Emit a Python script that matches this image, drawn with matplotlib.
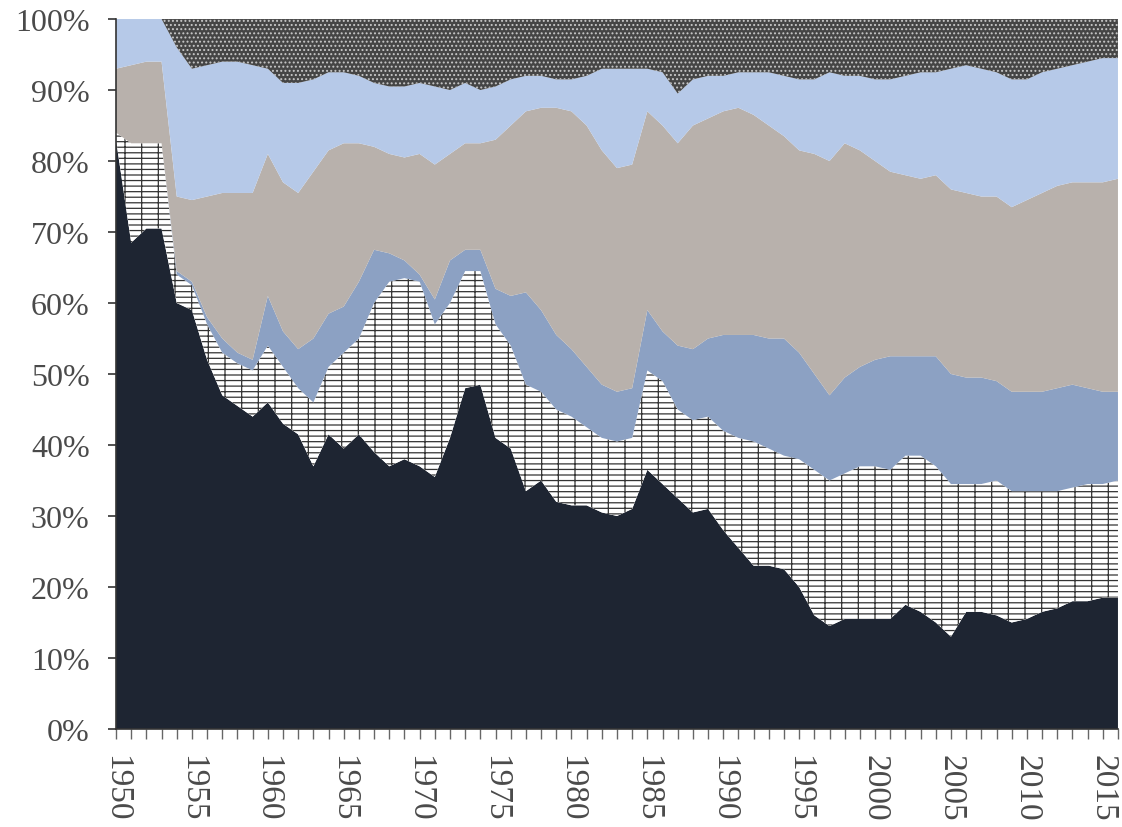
import numpy as np
import matplotlib
matplotlib.use("Agg")
import matplotlib.pyplot as plt
from matplotlib.ticker import MultipleLocator, FuncFormatter

plt.rcParams['font.family'] = ['Liberation Serif', 'DejaVu Serif']
plt.rcParams['hatch.linewidth'] = 0.9

years = np.arange(1950, 2017)

# cumulative tops of each band, in percent
navy_top = [83, 68.5, 70.5, 70.5, 60, 59, 52, 47, 45.5, 44,
            46, 43, 41.5, 37, 41.5, 39.5, 41.5, 39, 37, 38,
            37, 35.5, 41, 48, 48.5, 41, 39.5, 33.5, 35, 32,
            31.5, 31.5, 30.5, 30, 31, 36.5, 34.5, 32.5, 30.5, 31,
            28, 25.5, 23, 23, 22.5, 20, 16, 14.5, 15.5, 15.5,
            15.5, 15.5, 17.5, 16.5, 15, 13, 16.5, 16.5, 16, 15,
            15.5, 16.5, 17, 18, 18, 18.5, 18.5]
brick_top = [84, 82.5, 82.5, 82.5, 64, 62.5, 57, 53, 51.5, 50.5,
             54, 51, 48, 46, 51, 53, 55, 60, 63, 63.5,
             63, 57, 60, 64.5, 64.5, 57, 54, 48.5, 47.5, 45,
             44, 42.5, 41, 40.5, 41, 50.5, 49, 45, 43.5, 44,
             42, 41, 40.5, 39.5, 38.5, 38, 36.5, 35, 36, 37,
             37, 36.5, 38.5, 38.5, 37, 34.5, 34.5, 34.5, 35, 33.5,
             33.5, 33.5, 33.5, 34, 34.5, 34.5, 35]
blue_top = [84, 82.5, 82.5, 82.5, 64.5, 63, 58, 55, 53, 52,
            61, 56, 53.5, 55, 58.5, 59.5, 63, 67.5, 67, 66,
            64, 60.5, 66, 67.5, 67.5, 62, 61, 61.5, 59, 55.5,
            53.5, 51, 48.5, 47.5, 48, 59, 56, 54, 53.5, 55,
            55.5, 55.5, 55.5, 55, 55, 53, 50, 47, 49.5, 51,
            52, 52.5, 52.5, 52.5, 52.5, 50, 49.5, 49.5, 49, 47.5,
            47.5, 47.5, 48, 48.5, 48, 47.5, 47.5]
tan_top = [93, 93.5, 94, 94, 75, 74.5, 75, 75.5, 75.5, 75.5,
           81, 77, 75.5, 78.5, 81.5, 82.5, 82.5, 82, 81, 80.5,
           81, 79.5, 81, 82.5, 82.5, 83, 85, 87, 87.5, 87.5,
           87, 85, 81.5, 79, 79.5, 87, 85, 82.5, 85, 86,
           87, 87.5, 86.5, 85, 83.5, 81.5, 81, 80, 82.5, 81.5,
           80, 78.5, 78, 77.5, 78, 76, 75.5, 75, 75, 73.5,
           74.5, 75.5, 76.5, 77, 77, 77, 77.5]
light_top = [100, 100, 100, 100, 96, 93, 93.5, 94, 94, 93.5,
             93, 91, 91, 91.5, 92.5, 92.5, 92, 91, 90.5, 90.5,
             91, 90.5, 90, 91, 90, 90.5, 91.5, 92, 92, 91.5,
             91.5, 92, 93, 93, 93, 93, 92.5, 89.5, 91.5, 92,
             92, 92.5, 92.5, 92.5, 92, 91.5, 91.5, 92.5, 92, 92,
             91.5, 91.5, 92, 92.5, 92.5, 93, 93.5, 93, 92.5, 91.5,
             91.5, 92.5, 93, 93.5, 94, 94.5, 94.5]
total = [100] * len(years)

fig = plt.figure(figsize=(11.22, 8.28), dpi=100)
ax = fig.add_axes([0.1034, 0.1184, 0.8930, 0.8574])

zero = [0] * len(years)
ax.fill_between(years, zero, navy_top, facecolor='#1e2532', linewidth=0)
ax.fill_between(years, navy_top, brick_top, facecolor='white',
                edgecolor='#333333', hatch='---|', linewidth=0)
ax.fill_between(years, brick_top, blue_top, facecolor='#8ca1c3', linewidth=0)
ax.fill_between(years, blue_top, tan_top, facecolor='#b8b1ac', linewidth=0)
ax.fill_between(years, tan_top, light_top, facecolor='#b6c9e8', linewidth=0)
ax.fill_between(years, light_top, total, facecolor='#454545',
                edgecolor='#c8c8c8', hatch='....', linewidth=0)

ax.set_xlim(1950, 2016)
ax.set_ylim(0, 100)

ax.yaxis.set_major_locator(MultipleLocator(10))
ax.yaxis.set_major_formatter(FuncFormatter(lambda v, p: '%d%%' % v))
ax.xaxis.set_major_locator(MultipleLocator(5))
ax.xaxis.set_minor_locator(MultipleLocator(1))

for s in ['top', 'right']:
    ax.spines[s].set_visible(False)
for s in ['left', 'bottom']:
    ax.spines[s].set_color('#333333')
    ax.spines[s].set_linewidth(1.2)

ax.tick_params(axis='y', direction='out', length=6, width=1.2, color='#333333',
               labelsize=23, labelcolor='#4a4a4a', pad=13)
ax.tick_params(axis='x', which='both', direction='out', length=7, width=1.0,
               color='#666666', labelsize=24, labelcolor='#4a4a4a', pad=11)
for lab in ax.get_xticklabels():
    lab.set_rotation(-90)
    lab.set_va('top')
    lab.set_ha('center')

fig.savefig('out.png', dpi=100)
